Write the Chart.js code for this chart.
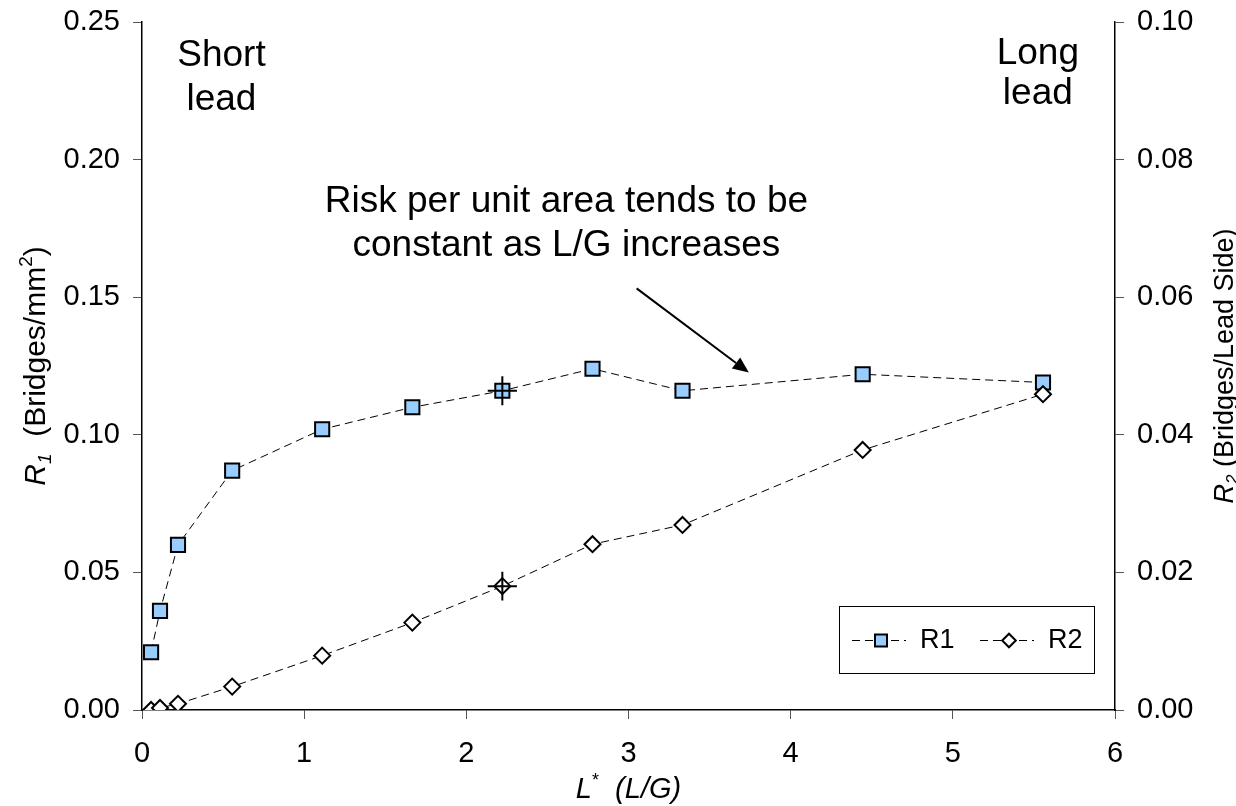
<!DOCTYPE html>
<html>
<head>
<meta charset="utf-8">
<title>Bridging risk vs L/G</title>
<script src="https://cdn.jsdelivr.net/npm/chart.js@4.4.0/dist/chart.umd.min.js"></script>
<style>
  html, body { margin: 0; padding: 0; background: #fff; }
  canvas { display: block; }
</style>
</head>
<body>
<canvas id="riskChart" width="1236" height="806"></canvas>
<script>
// L* = L/G for each lead length
const lgRatio = [0.056, 0.111, 0.222, 0.556, 1.111, 1.667, 2.222, 2.778, 3.333, 4.444, 5.556];
// R1: bridges per mm^2 (left axis)
const r1Values = [0.021, 0.036, 0.060, 0.087, 0.102, 0.110, 0.116, 0.124, 0.116, 0.122, 0.119];
// R2: bridges per lead side (right axis)
const r2Values = [0.0000, 0.0003, 0.0009, 0.0034, 0.0079, 0.0127, 0.0180, 0.0241, 0.0269, 0.0378, 0.0459];

const xTicks = [0, 1, 2, 3, 4, 5, 6];
const r1Ticks = [0, 0.05, 0.10, 0.15, 0.20, 0.25];
const r2Ticks = [0, 0.02, 0.04, 0.06, 0.08, 0.10];

// error cross at L* = 2.222
const errPoint = 2.222;
const errX = 0.09;
const r1ErrY = 0.0053;
const r2ErrY = 0.0021;

// arrow of the note, in L* / R1 units
const arrowFrom = [3.05, 0.1532];
const arrowTo = [3.742, 0.1226];

const FONT = '"Liberation Sans", Arial, sans-serif';
const BLUE = '#99ccff';

function font(size, italic) {
  return (italic ? 'italic ' : '') + size + 'px ' + FONT;
}

// draws a run of text pieces (italic, sub/superscript) centred on x
function drawRich(ctx, parts, x, y, size) {
  const widths = parts.map((p) => {
    ctx.font = font(p.script ? Math.round(size * 0.62) : size, p.italic);
    return ctx.measureText(p.text).width;
  });
  let cx = x - widths.reduce((a, b) => a + b, 0) / 2;
  ctx.textAlign = 'left';
  ctx.textBaseline = 'alphabetic';
  parts.forEach((p, i) => {
    ctx.font = font(p.script ? Math.round(size * 0.62) : size, p.italic);
    const dy = p.script === 'sub' ? size * 0.2 : p.script === 'sup' ? -size * 0.42 : 0;
    ctx.fillText(p.text, cx, y + dy);
    cx += widths[i];
  });
}

function crossAt(ctx, xs, ys, x, y, dx, dy) {
  ctx.beginPath();
  ctx.moveTo(xs.getPixelForValue(x - dx), ys.getPixelForValue(y));
  ctx.lineTo(xs.getPixelForValue(x + dx), ys.getPixelForValue(y));
  ctx.moveTo(xs.getPixelForValue(x), ys.getPixelForValue(y - dy));
  ctx.lineTo(xs.getPixelForValue(x), ys.getPixelForValue(y + dy));
  ctx.stroke();
}

const decorations = {
  id: 'decorations',
  afterDatasetsDraw(chart) {
    const { ctx, chartArea: area } = chart;
    const xs = chart.scales.x, y1 = chart.scales.y, y2 = chart.scales.y2;
    const idx = lgRatio.indexOf(errPoint);

    ctx.save();
    ctx.strokeStyle = '#000';
    ctx.lineWidth = 2;
    crossAt(ctx, xs, y1, errPoint, r1Values[idx], errX, r1ErrY);
    crossAt(ctx, xs, y2, errPoint, r2Values[idx], errX, r2ErrY);

    // note arrow
    const ax = xs.getPixelForValue(arrowFrom[0]), ay = y1.getPixelForValue(arrowFrom[1]);
    const bx = xs.getPixelForValue(arrowTo[0]), by = y1.getPixelForValue(arrowTo[1]);
    const ang = Math.atan2(by - ay, bx - ax);
    const headLen = 16, headHalf = 7;
    const hx = bx - headLen * Math.cos(ang), hy = by - headLen * Math.sin(ang);
    ctx.beginPath();
    ctx.moveTo(ax, ay);
    ctx.lineTo(hx, hy);
    ctx.stroke();
    ctx.fillStyle = '#000';
    ctx.beginPath();
    ctx.moveTo(bx, by);
    ctx.lineTo(hx + headHalf * Math.sin(ang), hy - headHalf * Math.cos(ang));
    ctx.lineTo(hx - headHalf * Math.sin(ang), hy + headHalf * Math.cos(ang));
    ctx.closePath();
    ctx.fill();

    // text notes
    ctx.fillStyle = '#000';
    ctx.textAlign = 'center';
    ctx.textBaseline = 'alphabetic';
    ctx.font = font(37);
    const noteX = xs.getPixelForValue(2.617);
    ctx.fillText('Risk per unit area tends to be', noteX, 212);
    ctx.fillText('constant as L/G increases', noteX, 256);
    const shortX = xs.getPixelForValue(0.49);
    ctx.fillText('Short', shortX, 66);
    ctx.fillText('lead', shortX, 110);
    const longX = xs.getPixelForValue(5.524);
    ctx.fillText('Long', longX, 64);
    ctx.fillText('lead', longX, 104);

    // axis titles
    drawRich(ctx, [
      { text: 'L', italic: true },
      { text: '*', script: 'sup' },
      { text: '  (L/G)', italic: true }
    ], (area.left + area.right) / 2, 798, 29);

    ctx.save();
    ctx.translate(45, (area.top + area.bottom) / 2);
    ctx.rotate(-Math.PI / 2);
    drawRich(ctx, [
      { text: 'R', italic: true },
      { text: '1', italic: true, script: 'sub' },
      { text: '  (Bridges/mm' },
      { text: '2', script: 'sup' },
      { text: ')' }
    ], 0, 0, 30);
    ctx.restore();

    ctx.save();
    ctx.translate(1233, (area.top + area.bottom) / 2);
    ctx.rotate(-Math.PI / 2);
    drawRich(ctx, [
      { text: 'R', italic: true },
      { text: '2', italic: true, script: 'sub' },
      { text: ' (Bridges/Lead Side)' }
    ], 0, 0, 27);
    ctx.restore();

    // legend
    const box = { left: area.right - 276, top: area.bottom - 104, w: 255, h: 67 };
    ctx.lineWidth = 1;
    ctx.strokeRect(box.left + 0.5, box.top + 0.5, box.w, box.h);
    const midY = box.top + box.h / 2 + 1;
    chart.data.datasets.forEach((ds, i) => {
      const x0 = box.left + 13 + i * 128;
      ctx.save();
      ctx.lineWidth = 1;
      ctx.setLineDash(ds.borderDash);
      ctx.beginPath();
      ctx.moveTo(x0, midY);
      ctx.lineTo(x0 + 54, midY);
      ctx.stroke();
      ctx.restore();
      ctx.fillStyle = ds.pointBackgroundColor;
      ctx.strokeStyle = '#000';
      ctx.lineWidth = ds.pointBorderWidth;
      Chart.helpers.drawPoint(ctx, {
        pointStyle: ds.pointStyle,
        radius: ds.pointRadius * 0.85,
        borderWidth: ds.pointBorderWidth,
        rotation: 0
      }, x0 + 29, midY);
      ctx.fillStyle = '#000';
      ctx.font = font(27);
      ctx.textAlign = 'left';
      ctx.textBaseline = 'middle';
      ctx.fillText(ds.label, x0 + 68, midY);
    });
    ctx.restore();
  }
};

const tickFont = { family: FONT, size: 29 };

// keep the plot box fixed: the y axes should not reserve room for half labels
function fitY(width) {
  return (s) => {
    s.width = width;
    s.paddingTop = 0;
    s.paddingBottom = 0;
  };
}

new Chart(document.getElementById('riskChart'), {
  type: 'line',
  data: {
    datasets: [
      {
        label: 'R1',
        data: lgRatio.map((x, i) => ({ x, y: r1Values[i] })),
        yAxisID: 'y',
        borderColor: '#000',
        borderWidth: 1,
        borderDash: [8, 5],
        pointStyle: 'rect',
        pointRadius: 10,
        pointBackgroundColor: BLUE,
        pointBorderColor: '#000',
        pointBorderWidth: 2,
        order: 2
      },
      {
        label: 'R2',
        data: lgRatio.map((x, i) => ({ x, y: r2Values[i] })),
        yAxisID: 'y2',
        borderColor: '#000',
        borderWidth: 1,
        borderDash: [8, 5],
        pointStyle: 'rectRot',
        pointRadius: 8,
        pointBackgroundColor: '#fff',
        pointBorderColor: '#000',
        pointBorderWidth: 2,
        order: 1
      }
    ]
  },
  options: {
    responsive: false,
    animation: false,
    layout: { padding: { top: 22, left: 0, right: 0, bottom: 0 } },
    plugins: { legend: { display: false }, tooltip: { enabled: false } },
    scales: {
      x: {
        type: 'linear',
        min: xTicks[0],
        max: xTicks[xTicks.length - 1],
        afterBuildTicks: (s) => { s.ticks = xTicks.map((v) => ({ value: v })); },
        ticks: { font: tickFont, color: '#000', padding: 18, maxRotation: 0 },
        grid: { drawOnChartArea: false, tickLength: 9, color: '#555' },
        border: { color: '#000', width: 1.5 },
        afterFit: (s) => { s.height = 96; }
      },
      y: {
        position: 'left',
        min: r1Ticks[0],
        max: r1Ticks[r1Ticks.length - 1],
        afterBuildTicks: (s) => { s.ticks = r1Ticks.map((v) => ({ value: v })); },
        ticks: { font: tickFont, color: '#000', padding: 13, callback: (v) => v.toFixed(2) },
        grid: { drawOnChartArea: false, tickLength: 9, color: '#555' },
        border: { color: '#000', width: 1.5 },
        afterFit: fitY(142)
      },
      y2: {
        position: 'right',
        min: r2Ticks[0],
        max: r2Ticks[r2Ticks.length - 1],
        afterBuildTicks: (s) => { s.ticks = r2Ticks.map((v) => ({ value: v })); },
        ticks: { font: tickFont, color: '#000', padding: 13, callback: (v) => v.toFixed(2) },
        grid: { drawOnChartArea: false, tickLength: 9, color: '#555' },
        border: { color: '#000', width: 1.5 },
        afterFit: fitY(121)
      }
    }
  },
  plugins: [decorations]
});
</script>
</body>
</html>
